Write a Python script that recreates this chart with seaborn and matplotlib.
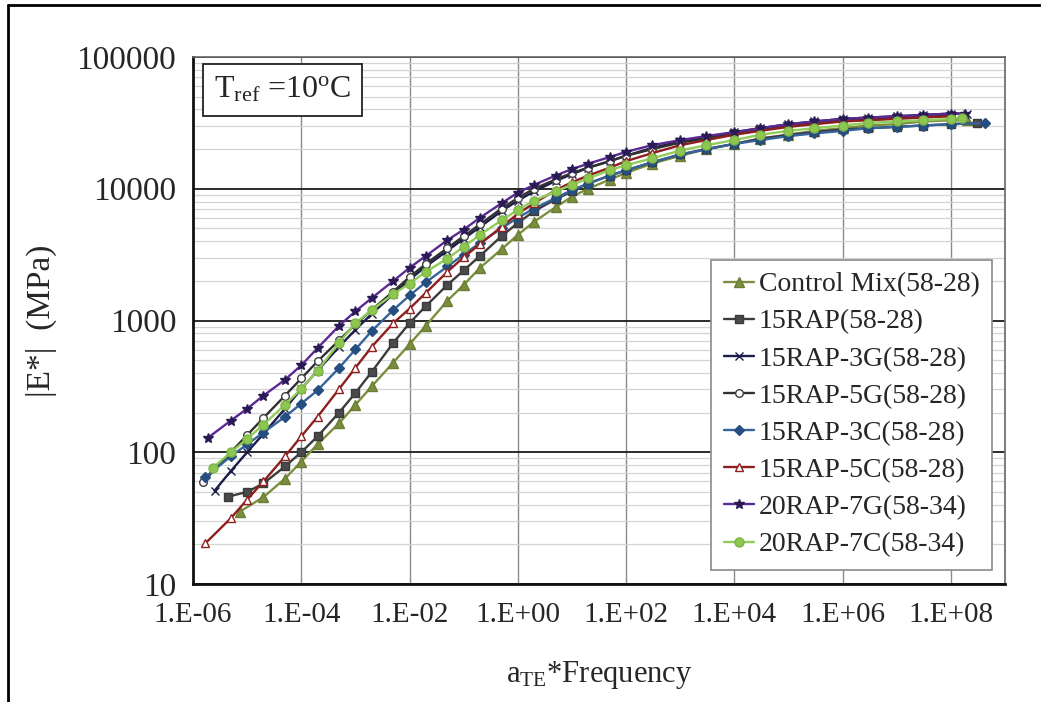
import matplotlib
matplotlib.use("Agg")
import matplotlib.pyplot as plt
import matplotlib.ticker as mticker
from matplotlib.lines import Line2D
import seaborn as sns
import pandas as pd

# ---------------- data ----------------
grid = [1e-5, 2e-5, 5e-5, 1e-4, 2e-4, 5e-4, 1e-3, 2e-3, 5e-3, 1e-2, 2e-2, 5e-2,
        0.1, 0.2, 0.5, 1, 2, 5, 10, 20, 50, 100, 300, 1e3, 3e3, 1e4, 3e4,
        1e5, 3e5, 1e6, 3e6, 1e7, 3e7, 1e8]

control_x = [7.4e-6] + grid[1:] + [2e8]
control_y = [35.5, 45.7, 63, 85, 115, 166, 229, 316, 479, 661, 912, 1413, 1862,
             2512, 3467, 4467, 5623, 7244, 8710, 10000, 11750, 13180, 15500,
             17800, 19950, 21900, 24000, 25700, 27500, 28800, 30200, 30900,
             32400, 33100, 33100]

rap15_x = [4.4e-6] + grid + [3e8]
rap15_y = [46, 50, 58, 78, 100, 132, 200, 282, 407, 676, 955, 1288, 1862, 2399,
           3090, 4365, 5495, 6761, 8318, 9550, 10960, 12590, 13800, 15850, 18200,
           19950, 21900, 24000, 25700, 26900, 28200, 28800, 29500, 30200, 30900,
           31600]

rap3g_x = [2.5e-6, 5e-6] + grid + [2e8]
rap3g_y = [51, 72, 100, 138, 214, 302, 417, 631, 851, 1122, 1585, 2042, 2570,
           3388, 4169, 5129, 6761, 8128, 9550, 11480, 12880, 14450, 16200, 17800,
           20400, 22900, 24500, 26900, 28800, 30900, 32400, 33900, 34700, 35500,
           36300, 37200, 37200]

rap5g_x = [1.5e-6, 5e-6] + grid
rap5g_y = [59, 100, 135, 182, 269, 363, 490, 708, 933, 1202, 1660, 2138, 2692,
           3548, 4365, 5370, 7079, 8511, 10000, 11750, 13180, 14450, 16200, 17800,
           19950, 22400, 24000, 26300, 28200, 30200, 31600, 33100, 33900, 34700,
           35500, 36300]

rap3c_x = [1.7e-6, 5e-6] + grid + [4.2e8]
rap3c_y = [65, 93, 115, 141, 186, 234, 295, 437, 603, 832, 1202, 1549, 1950,
           2570, 3162, 3890, 5012, 6026, 7079, 8511, 9772, 10960, 12590, 13800,
           15850, 18200, 19950, 21900, 23400, 25100, 26300, 27500, 28800, 29500,
           30200, 30900, 31600]

rap5c_x = [1.7e-6, 5e-6] + grid
rap5c_y = [20.4, 31.6, 43.7, 60, 93, 132, 186, 302, 437, 631, 955, 1230, 1622,
           2344, 3020, 3802, 5129, 6457, 7762, 9772, 11200, 12600, 14450, 16200,
           18600, 21400, 23400, 25700, 27500, 29500, 30900, 32400, 33100, 33900,
           34700, 35500]

rap7g_x = [1.9e-6, 5e-6] + grid + [1.8e8]
rap7g_y = [129, 174, 214, 269, 355, 457, 617, 912, 1175, 1479, 1995, 2512, 3090,
           4074, 4898, 6026, 7762, 9333, 10700, 12600, 14100, 15500, 17400, 19050,
           21400, 23400, 25100, 26900, 28800, 30900, 32400, 33900, 34700, 35500,
           36300, 37200, 37200]

rap7c_x = [2.3e-6, 5e-6] + grid + [1.6e8]
rap7c_y = [76, 100, 126, 162, 229, 302, 417, 676, 955, 1202, 1585, 1905, 2344,
           2951, 3631, 4467, 5754, 6918, 8128, 9550, 10700, 12000, 13800, 15100,
           17000, 19500, 21400, 23400, 25700, 27500, 28800, 30200, 31600, 32400,
           33100, 33900, 34700]

series_names = ["Control Mix(58-28)", "15RAP(58-28)", "15RAP-3G(58-28)",
                "15RAP-5G(58-28)", "15RAP-3C(58-28)", "15RAP-5C(58-28)",
                "20RAP-7G(58-34)", "20RAP-7C(58-34)"]
series_x = [control_x, rap15_x, rap3g_x, rap5g_x, rap3c_x, rap5c_x, rap7g_x, rap7c_x]
series_y = [control_y, rap15_y, rap3g_y, rap5g_y, rap3c_y, rap5c_y, rap7g_y, rap7c_y]

x_ticks = [1e-6, 1e-4, 1e-2, 1e0, 1e2, 1e4, 1e6, 1e8]
x_tick_labels = ["1.E-06", "1.E-04", "1.E-02", "1.E+00", "1.E+02", "1.E+04",
                 "1.E+06", "1.E+08"]
y_ticks = [10, 100, 1000, 10000, 100000]
y_tick_labels = ["10", "100", "1000", "10000", "100000"]

# ---------------- styles ----------------
styles = {
    "Control Mix(58-28)": dict(color="#7a8f3e", marker="^", mfc="#7a8f3e", mec="#6a7d33", ms=6.5),
    "15RAP(58-28)": dict(color="#3c3c3c", marker="s", mfc="#4a4a4a", mec="#3a3a3a", ms=6),
    "15RAP-3G(58-28)": dict(color="#1c1c4a", marker="x", mfc="#1c1c4a", mec="#1c1c4a", ms=5.5),
    "15RAP-5G(58-28)": dict(color="#303030", marker="o", mfc="white", mec="#404040", ms=5.5),
    "15RAP-3C(58-28)": dict(color="#35639a", marker="D", mfc="#244f80", mec="#244f80", ms=5),
    "15RAP-5C(58-28)": dict(color="#8e1f1f", marker="^", mfc="white", mec="#8e1f1f", ms=6),
    "20RAP-7G(58-34)": dict(color="#5a2a92", marker="*", mfc="#2a1a55", mec="#2a1a55", ms=7),
    "20RAP-7C(58-34)": dict(color="#92cc5a", marker="o", mfc="#8cc850", mec="#7fb447", ms=6.5),
}

sns.set_theme(style="white")
plt.rcParams["font.family"] = ["Liberation Serif", "DejaVu Serif"]
plt.rcParams["mathtext.fontset"] = "custom"
plt.rcParams["mathtext.rm"] = "Liberation Serif"
plt.rcParams["mathtext.it"] = "Liberation Serif:italic"

fig = plt.figure(figsize=(10.41, 7.02), dpi=100)
fig.patch.set_facecolor("white")
ax = fig.add_axes([193 / 1041, 1 - 584 / 702, 812 / 1041, 527 / 702])

for name, xs, ys in zip(series_names, series_x, series_y):
    st = styles[name]
    df = pd.DataFrame({"freq": xs, "E": ys})
    sns.lineplot(data=df, x="freq", y="E", ax=ax, color=st["color"], lw=1.7,
                 marker=st["marker"], markersize=st["ms"],
                 markerfacecolor=st["mfc"], markeredgecolor=st["mec"],
                 markeredgewidth=1.0, label=name, estimator=None, sort=False)

ax.set_xscale("log")
ax.set_yscale("log")
ax.set_xlim(1e-6, 1e9)
ax.set_ylim(10, 100000)

ax.xaxis.set_major_locator(mticker.FixedLocator(x_ticks))
ax.xaxis.set_major_formatter(mticker.FixedFormatter(x_tick_labels))
ax.xaxis.set_minor_locator(mticker.NullLocator())
ax.yaxis.set_major_locator(mticker.FixedLocator(y_ticks))
ax.yaxis.set_major_formatter(mticker.FixedFormatter(y_tick_labels))
ax.yaxis.set_minor_locator(mticker.LogLocator(base=10, subs=range(2, 10)))
ax.yaxis.set_minor_formatter(mticker.NullFormatter())

ax.grid(True, which="major", axis="x", color="#8a8a8a", lw=1.0)
ax.grid(True, which="major", axis="y", color="#1a1a1a", lw=1.3)
ax.grid(True, which="minor", axis="y", color="#d4d4d4", lw=0.9)
ax.set_axisbelow(True)

ax.tick_params(axis="both", which="major", direction="out",
               length=7, width=1.5, color="#222222", pad=6)
ax.tick_params(axis="x", which="major", labelsize=21)
ax.tick_params(axis="y", which="major", labelsize=24, pad=5)
ax.tick_params(axis="y", which="minor", length=0)
for s in ["left", "bottom"]:
    ax.spines[s].set_color("#111111")
    ax.spines[s].set_linewidth(2.0)
for s in ["top", "right"]:
    ax.spines[s].set_color("#666666")
    ax.spines[s].set_linewidth(1.2)

ax.set_xlabel(r"a$_{\rm TE}$*Frequency", fontsize=22, labelpad=22)
ax.set_ylabel(r"|E*|  (MPa)", fontsize=24, labelpad=14)

ax.text(0.026, 0.966, r"T$_{\rm ref}$ =10$^{\rm o}$C", transform=ax.transAxes,
        fontsize=23, va="top", ha="left",
        bbox=dict(boxstyle="square,pad=0.35", fc="white", ec="#222222", lw=1.3))

leg = ax.legend(loc="lower right", bbox_to_anchor=(0.984, 0.027), borderaxespad=0,
                fontsize=20, frameon=True, fancybox=False, framealpha=1,
                edgecolor="#8a8a8a", handlelength=1.1, handletextpad=0.15,
                labelspacing=0.42, borderpad=0.45)
leg.get_frame().set_linewidth(1.2)

# outer frame lines of the picture
fig.add_artist(Line2D([8 / 1041, 8 / 1041], [0, 1 - 5 / 702], transform=fig.transFigure,
                      color="black", lw=2))
fig.add_artist(Line2D([8 / 1041, 1], [1 - 5 / 702, 1 - 5 / 702], transform=fig.transFigure,
                      color="black", lw=2))

fig.savefig("out.png", dpi=100)
